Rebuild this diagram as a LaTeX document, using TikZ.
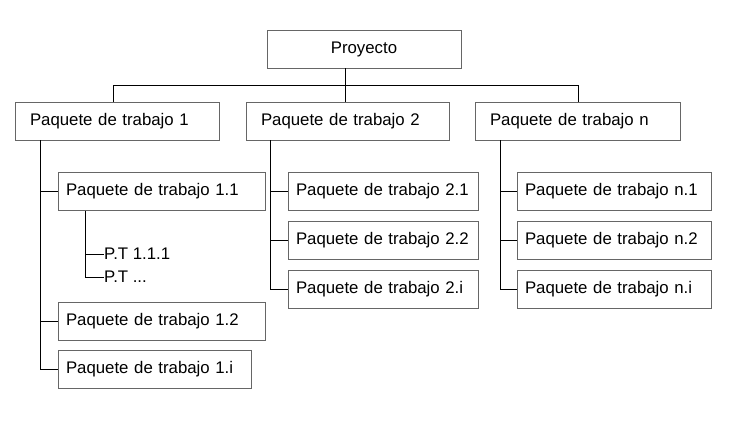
\documentclass[tikz,border=0pt]{standalone}
\usepackage{fontspec}
\setmainfont{Liberation Sans}
\usetikzlibrary{positioning}
\tikzset{wbox/.style={rectangle,draw=black!60,fill=white,line width=0.7pt,
inner ysep=0pt,minimum height=38pt,align=left,font=\fontsize{16.8}{19}\selectfont}}
\tikzset{wtop/.style={wbox,inner xsep=15pt,text width=#1-30pt}}
\tikzset{wsub/.style={wbox,inner xsep=8pt,text width=#1-16pt}}
\tikzset{wleaf/.style={inner sep=0pt,anchor=west,font=\fontsize{16.8}{19}\selectfont}}
\tikzset{wline/.style={draw=black,line width=0.8pt}}

\begin{document}
\begin{tikzpicture}[x=1pt,y=-1pt]
    \useasboundingbox (0,0) rectangle (736,424);

    \node[wbox,minimum width=194pt] (proy) at (364,49) {Proyecto};

    \node[wtop=204pt] (wpA) at (117,121) {Paquete de trabajo 1};
    \node[wtop=203pt] (wpB) at (347.5,121) {Paquete de trabajo 2};
    \node[wtop=205pt] (wpN) at (577.5,121) {Paquete de trabajo n};

    \coordinate (busL) at (113,85);
    \coordinate (busR) at (578,85);
    \coordinate (busM) at (345,85);
    \draw[wline] (busL) -- (busR);
    \draw[wline] (proy.south -| busM) -- (busM);
    \draw[wline] (busL) -- (busL |- wpA.north);
    \draw[wline] (busM) -- (busM |- wpB.north);
    \draw[wline] (busR) -- (busR |- wpN.north);

    % rama 1
    \node[wsub=207pt] (wpAa) at (161.5,191.5) {Paquete de trabajo 1.1};
    \node[wsub=207pt] (wpAb) at (161.5,321.5) {Paquete de trabajo 1.2};
    \node[wsub=193pt] (wpAi) at (154.5,369) {Paquete de trabajo 1.i};
    \coordinate (trA) at (40,140);
    \draw[wline] (trA) -- (40,369) -- (wpAi.west);
    \draw[wline] (40,191.5) -- (wpAa.west);
    \draw[wline] (40,321.5) -- (wpAb.west);

    \node[wleaf] (ptA) at (104,254) {P.T 1.1.1};
    \node[wleaf] (ptB) at (104,277) {P.T ...};
    \draw[wline] (85,210.5) -- (85,277) -- (ptB.west);
    \draw[wline] (85,254) -- (ptA.west);

    % rama 2
    \node[wsub=190pt] (wpBa) at (383,191) {Paquete de trabajo 2.1};
    \node[wsub=190pt] (wpBb) at (383,240.5) {Paquete de trabajo 2.2};
    \node[wsub=190pt] (wpBi) at (383,289) {Paquete de trabajo 2.i};
    \draw[wline] (270,140) -- (270,289) -- (wpBi.west);
    \draw[wline] (270,191) -- (wpBa.west);
    \draw[wline] (270,240.5) -- (wpBb.west);

    % rama n
    \node[wsub=194pt] (wpNa) at (614,191) {Paquete de trabajo n.1};
    \node[wsub=194pt] (wpNb) at (614,240.5) {Paquete de trabajo n.2};
    \node[wsub=194pt] (wpNi) at (614,289) {Paquete de trabajo n.i};
    \draw[wline] (500,140) -- (500,289) -- (wpNi.west);
    \draw[wline] (500,191) -- (wpNa.west);
    \draw[wline] (500,240.5) -- (wpNb.west);
\end{tikzpicture}
\end{document}
